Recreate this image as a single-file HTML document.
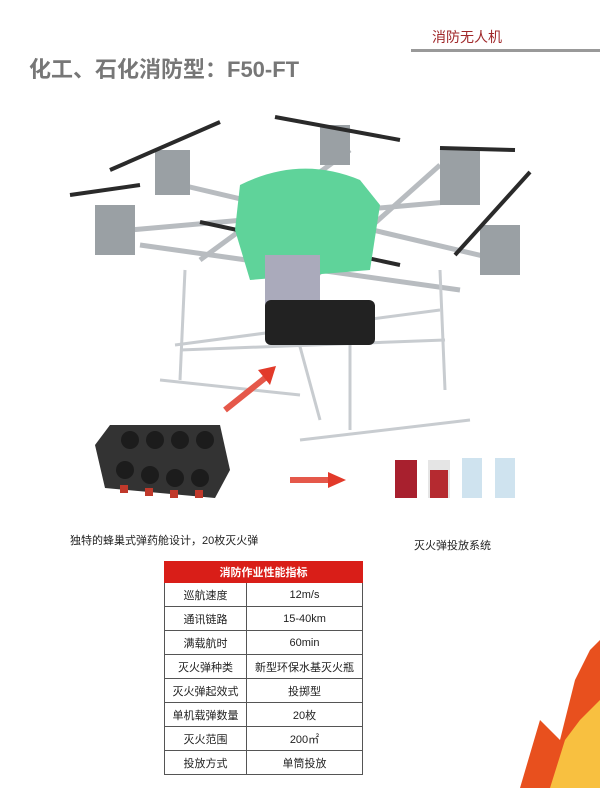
<!DOCTYPE html>
<html><head><meta charset="utf-8"><style>
body{margin:0;width:600px;height:788px;background:#fff;position:relative;overflow:hidden;font-family:"Liberation Sans","Noto Sans CJK SC",sans-serif}
.a{position:absolute}
table{border-collapse:collapse;position:absolute;left:164px;top:561px;width:199px;font-size:11px;color:#222}
td{border:1px solid #555;height:23px;text-align:center;padding:0}
th{background:#d91e18;color:#fff;height:18px;font-size:11px;font-weight:bold;border:1px solid #d91e18}
</style></head><body>
<div class="a" style="left:432px;top:27px;color:#a0282a;font-size:14px">消防无人机</div>
<div class="a" style="left:411px;top:49px;width:189px;height:3px;background:#999"></div>
<div class="a" style="left:29px;top:52px;color:#777;font-size:22px;font-weight:bold">化工、石化消防型：F50-FT</div>
<svg class="a" style="left:0;top:0" width="600" height="788">
<g stroke="#b8bcc0" stroke-width="5" fill="none">
<line x1="130" y1="230" x2="470" y2="200"/><line x1="160" y1="180" x2="500" y2="260"/>
<line x1="140" y1="245" x2="460" y2="290"/><line x1="350" y1="150" x2="200" y2="260"/>
<line x1="440" y1="165" x2="300" y2="290"/>
</g>
<g stroke="#c8ccd0" stroke-width="3" fill="none">
<line x1="185" y1="270" x2="180" y2="380"/><line x1="440" y1="270" x2="445" y2="390"/>
<line x1="290" y1="310" x2="320" y2="420"/><line x1="350" y1="300" x2="350" y2="430"/>
<line x1="160" y1="380" x2="300" y2="395"/><line x1="180" y1="350" x2="445" y2="340"/>
<line x1="300" y1="440" x2="470" y2="420"/><line x1="175" y1="345" x2="440" y2="310"/>
</g>
<g fill="#9aa0a4"><rect x="95" y="205" width="40" height="50"/><rect x="155" y="150" width="35" height="45"/><rect x="440" y="150" width="40" height="55"/><rect x="480" y="225" width="40" height="50"/><rect x="320" y="125" width="30" height="40"/></g>
<g stroke="#2a2a2a" stroke-width="4"><line x1="110" y1="170" x2="220" y2="122"/><line x1="70" y1="195" x2="140" y2="185"/><line x1="275" y1="117" x2="400" y2="140"/><line x1="440" y1="148" x2="515" y2="150"/><line x1="455" y1="255" x2="530" y2="172"/><line x1="200" y1="222" x2="400" y2="265"/></g>
<path d="M240 185 Q300 155 360 180 L380 205 L370 270 L250 280 L235 230Z" fill="#5fd39a"/>
<rect x="265" y="255" width="55" height="60" fill="#aab"/>
<rect x="265" y="300" width="110" height="45" rx="6" fill="#222"/>
<path d="M225 410 L265 378" stroke="#e5584a" stroke-width="6"/>
<path d="M258 370 L276 366 L270 385Z" fill="#e23a2a"/>
<path d="M290 480 L330 480" stroke="#e5584a" stroke-width="6"/><path d="M328 472 L346 480 L328 488Z" fill="#e23a2a"/>
<path d="M110 425 L220 425 L230 470 L215 498 L105 488 L95 445Z" fill="#333"/>
<g fill="#1c1c1c"><circle cx="130" cy="440" r="9"/><circle cx="155" cy="440" r="9"/><circle cx="180" cy="440" r="9"/><circle cx="205" cy="440" r="9"/><circle cx="125" cy="470" r="9"/><circle cx="150" cy="475" r="9"/><circle cx="175" cy="478" r="9"/><circle cx="200" cy="478" r="9"/></g>
<g fill="#c0392b"><rect x="120" y="485" width="8" height="8"/><rect x="145" y="488" width="8" height="8"/><rect x="170" y="490" width="8" height="8"/><rect x="195" y="490" width="8" height="8"/></g>
<rect x="395" y="460" width="22" height="38" fill="#a8202e"/><rect x="428" y="460" width="22" height="38" fill="#e5e5e5"/><rect x="430" y="470" width="18" height="28" fill="#b52a30"/>
<rect x="462" y="458" width="20" height="40" fill="#cfe3ef"/><rect x="495" y="458" width="20" height="40" fill="#cfe3ef"/>
<path d="M520 788 L540 720 L560 740 L575 680 L590 650 L600 640 L600 788Z" fill="#e8501e"/>
<path d="M550 788 L565 740 L580 720 L600 700 L600 788Z" fill="#f8c040"/>
</svg>
<div class="a" style="left:70px;top:532px;font-size:11px;color:#222">独特的蜂巢式弹药舱设计，20枚灭火弹</div>
<div class="a" style="left:414px;top:537px;font-size:11px;color:#222">灭火弹投放系统</div>
<table>
<tr><th colspan="2">消防作业性能指标</th></tr>
<tr><td style="width:81px">巡航速度</td><td>12m/s</td></tr>
<tr><td>通讯链路</td><td>15-40km</td></tr>
<tr><td>满载航时</td><td>60min</td></tr>
<tr><td>灭火弹种类</td><td>新型环保水基灭火瓶</td></tr>
<tr><td>灭火弹起效式</td><td>投掷型</td></tr>
<tr><td>单机载弹数量</td><td>20枚</td></tr>
<tr><td>灭火范围</td><td>200㎡</td></tr>
<tr><td>投放方式</td><td>单筒投放</td></tr>
</table>
</body></html>
